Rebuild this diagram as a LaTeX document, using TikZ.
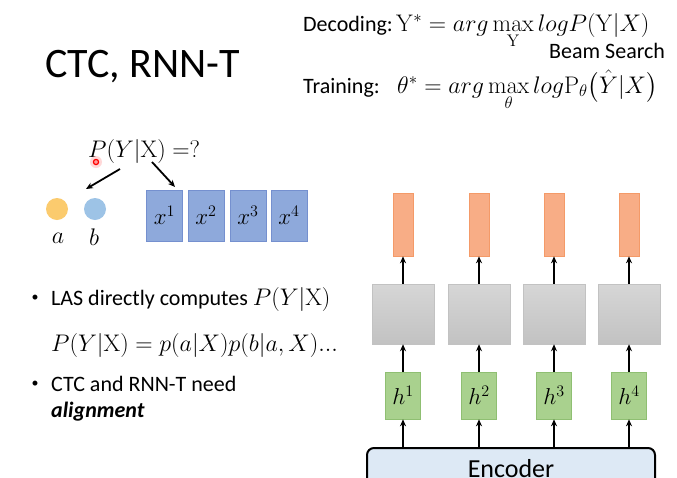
\RequirePackage{fix-cm}
\documentclass[tikz,border=0pt]{standalone}
\usepackage{amsmath}
\usepackage[no-math]{fontspec}
\setmainfont{Carlito}
\usetikzlibrary{arrows.meta}
\definecolor{yellowc}{HTML}{FBCB6E}
\definecolor{bluec}{HTML}{9DC3E6}
\definecolor{xfill}{HTML}{8EA9DB}
\definecolor{xdraw}{HTML}{7590CF}
\definecolor{orfill}{HTML}{F8AD86}
\definecolor{ordraw}{HTML}{F49A68}
\definecolor{grtop}{HTML}{D6D6D6}
\definecolor{grbot}{HTML}{C2C2C2}
\definecolor{grnfill}{HTML}{A9D18E}
\definecolor{grndraw}{HTML}{8FBF72}
\definecolor{encfill}{HTML}{DDE9F5}
\begin{document}
\begin{tikzpicture}[x=1pt,y=-1pt,
  txt/.style={inner sep=0pt, font=\fontsize{22}{26}\selectfont},
  mtxt/.style={inner sep=0pt, font=\fontsize{24}{28}\selectfont},
  arr/.style={-{Stealth[length=7pt,width=6pt]}, line width=1.8pt},
  xbox/.style={draw=xdraw, fill=xfill, line width=0.6pt, minimum width=36pt, minimum height=51pt, inner sep=0pt, font=\fontsize{23}{27}\selectfont},
  obar/.style={draw=ordraw, fill=orfill, line width=0.6pt, minimum width=20pt, minimum height=63pt, inner sep=0pt},
  gbox/.style={draw=grbot, top color=grtop, bottom color=grbot, line width=0.5pt, minimum width=62pt, minimum height=60pt, inner sep=0pt},
  hbox/.style={draw=grndraw, fill=grnfill, line width=0.6pt, minimum width=35pt, minimum height=47pt, inner sep=0pt, font=\fontsize{23}{27}\selectfont},
]
\useasboundingbox (0,0) rectangle (677,477);
\fill[white] (0,0) rectangle (677,477);

% title
\node (title) [anchor=base west, inner sep=0pt, font=\fontsize{42}{48}\selectfont] at (45,77) {CTC, RNN-T};

% top formulas
\node (dec) [txt, anchor=base west] at (303,31) {Decoding:};
\node (deceq) [mtxt, anchor=base west] at (396,31) {$\mathrm{Y}^* = arg\max\limits_{\mathrm{Y}} logP(\mathrm{Y}|X)$};
\node (beam) [txt, anchor=base west] at (549,58) {Beam Search};
\node (tr) [txt, anchor=base west] at (303,93) {Training:};
\node (treq) [mtxt, anchor=base west] at (397,93) {$\theta^* = arg\max\limits_{\theta} log\mathrm{P}_\theta\bigl(\hat{Y}|X\bigr)$};

% P(Y|X)=?
\node (q) [mtxt, anchor=base west] at (88,157) {$P(Y|\mathrm{X}) =?$};
\coordinate (s1) at (120,169);
\coordinate (e1) at (86,189);
\coordinate (s2) at (152,162);
\coordinate (e2) at (175,187);
\draw[arr] (s1) -- (e1);
\draw[arr] (s2) -- (e2);

% red pointer dot
\fill[red!25, opacity=0.6] (96,162) circle (6pt);
\draw[red, line width=1.2pt, fill=red!40] (96,162) circle (2.6pt);

% a, b
\node (ca) [circle, fill=yellowc, minimum size=22pt, inner sep=0pt] at (57,209) {};
\node (cb) [circle, fill=bluec, minimum size=22pt, inner sep=0pt] at (95,209) {};
\node (la) [mtxt] at (58,238) {$a$};
\node (lb) [mtxt] at (94,237) {$b$};

% x boxes
\node (x1) [xbox] at (164.5,215.5) {$x^1$};
\node (x2) [xbox] at (206,215.5) {$x^2$};
\node (x3) [xbox] at (248,215.5) {$x^3$};
\node (x4) [xbox] at (289,215.5) {$x^4$};

% right network
\foreach \i/\cx in {1/403,2/479,3/554,4/629}{
  \node (o\i) [obar] at (\cx,224.5) {};
  \node (g\i) [gbox] at (\cx,314) {};
  \node (h\i) [hbox] at (\cx,395.5) {$h^{\i}$};
}
\node (enc) [draw=black, line width=2pt, rounded corners=7pt, fill=encfill, minimum width=288pt, minimum height=60pt, anchor=north, inner sep=0pt] at (511,447) {};
\node (enctxt) [anchor=base, inner sep=0pt, font=\fontsize{26}{30}\selectfont] at (511,477) {Encoder};
\foreach \i in {1,2,3,4}{
  \draw[arr] (g\i.north) -- (o\i.south);
  \draw[arr] (h\i.north) -- (g\i.south);
  \draw[arr] (enc.north -| h\i.south) -- (h\i.south);
}

% bullets
\node (b1) [inner sep=0pt, font=\fontsize{14}{16}\selectfont, anchor=center] at (35,298) {•};
\node (t1) [txt, anchor=base west] at (51,305) {LAS directly computes {\fontsize{24}{28}\selectfont$P(Y|\mathrm{X})$}};
\node (t2) [mtxt, anchor=base west] at (51,351) {$P(Y|\mathrm{X}) = p(a|X)p(b|a,X)...$};
\node (b2) [inner sep=0pt, font=\fontsize{14}{16}\selectfont, anchor=center] at (35,384) {•};
\node (t3) [txt, anchor=base west] at (51,391) {CTC and RNN-T need};
\node (t4) [txt, anchor=base west] at (51,417) {\textbf{\textit{alignment}}};
\end{tikzpicture}
\end{document}
